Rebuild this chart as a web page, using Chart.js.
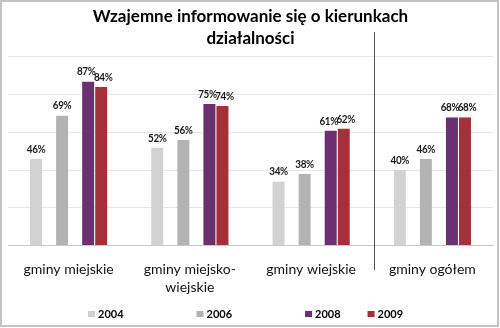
<!DOCTYPE html>
<html>
<head>
<meta charset="utf-8">
<script src="https://cdn.jsdelivr.net/npm/chart.js@4"></script>
<style>
  html, body { margin: 0; padding: 0; background: #fff; }
  #wrap { width: 500px; height: 328px; }
</style>
</head>
<body>
<div id="wrap"><canvas id="chart" width="500" height="328"></canvas></div>
<script>
const categories = [
  "gminy miejskie",
  ["gminy miejsko-", "wiejskie"],
  "gminy wiejskie",
  "gminy ogółem"
];
const years = ["2004", "", "2006", "", "2008", "2009"];
const values2004 = [46, 52, 34, 40];
const values2006 = [69, 56, 38, 46];
const values2008 = [87, 75, 61, 68];
const values2009 = [84, 74, 62, 68];
const yTicks = [0, 20, 40, 60, 80, 100];

const colors = ["#d2d2d2", "rgba(0,0,0,0)", "#b3b3b3", "rgba(0,0,0,0)", "#6b3070", "#a4313a"];
const seriesValues = [values2004, [], values2006, [], values2008, values2009];

const FONT = "Lato, 'Open Sans', sans-serif";

// white background plus the thin grey frame round the whole chart
const frame = {
  id: "frame",
  beforeDraw(chart) {
    const ctx = chart.ctx;
    ctx.save();
    ctx.fillStyle = "#fff";
    ctx.fillRect(0, 0, chart.width, chart.height);
    ctx.strokeStyle = "#c4c4c4";
    ctx.lineWidth = 2;
    ctx.strokeRect(1, 1, chart.width - 3, chart.height - 3);
    ctx.restore();
  }
};

// vertical rule that sets the total apart from the three kinds of gmina
const divider = {
  id: "divider",
  afterDraw(chart) {
    const x = chart.scales.x;
    const px = Math.round((x.getPixelForValue(2) + x.getPixelForValue(3)) / 2) + 2.5;
    const ctx = chart.ctx;
    ctx.save();
    ctx.strokeStyle = "#555";
    ctx.lineWidth = 1;
    ctx.beginPath();
    ctx.moveTo(px, 32);
    ctx.lineTo(px, 270);
    ctx.stroke();
    ctx.restore();
  }
};

// percentage above every bar; the touching 2008/2009 pair is pushed apart a little
const valueLabels = {
  id: "valueLabels",
  afterDatasetsDraw(chart) {
    const ctx = chart.ctx;
    const nudge = { "2008": -2, "2009": 2 };
    ctx.save();
    ctx.font = "bold 11px " + FONT;
    ctx.letterSpacing = "-0.4px";
    ctx.fillStyle = "#1a1a1a";
    ctx.textAlign = "center";
    ctx.textBaseline = "bottom";
    chart.data.datasets.forEach((ds, i) => {
      if (!ds.label) return;
      chart.getDatasetMeta(i).data.forEach((bar, j) => {
        ctx.save();
        ctx.translate(bar.x + (nudge[ds.label] || 0), bar.y - 4);
        ctx.scale(0.9, 1);
        ctx.fillText(ds.data[j] + "%", 0, 0);
        ctx.restore();
      });
    });
    ctx.restore();
  }
};

// one-row legend under the axis; the blank series keep their slot as spacing
const yearLegend = {
  id: "yearLegend",
  afterDraw(chart) {
    const ctx = chart.ctx;
    const box = 7, gap = 3, pad = 27, blank = 19, y = 314;
    ctx.save();
    ctx.font = "bold 11px " + FONT;
    ctx.textBaseline = "middle";
    const items = chart.data.datasets.map(ds => ({
      text: ds.label,
      color: ds.backgroundColor,
      w: ds.label ? box + gap + ctx.measureText(ds.label).width : blank
    }));
    const total = items.reduce((s, it) => s + it.w, 0) + pad * (items.length - 1);
    let x = Math.round(246 - total / 2);
    items.forEach(it => {
      if (it.text) {
        ctx.fillStyle = it.color;
        ctx.fillRect(x, y - 3, box, box - 1);
        ctx.fillStyle = "#000";
        ctx.fillText(it.text, x + box + gap, y + 0.5);
      }
      x += it.w + pad;
    });
    ctx.restore();
  }
};

const datasets = years.map((y, i) => ({
  label: y,
  data: seriesValues[i],
  backgroundColor: colors[i],
  borderColor: "#fff",
  borderWidth: y ? { left: 0.5, right: 0.5, top: 0, bottom: 0 } : 0,
  barPercentage: 1,
  categoryPercentage: 0.645
}));

new Chart(document.getElementById("chart"), {
  type: "bar",
  data: { labels: categories, datasets },
  plugins: [frame, divider, valueLabels, yearLegend],
  options: {
    responsive: false,
    animation: false,
    layout: { padding: { left: 8, right: 7, top: 0, bottom: 24 } },
    plugins: {
      title: {
        display: true,
        text: ["Wzajemne informowanie się o kierunkach", "działalności"],
        color: "#000",
        font: { family: FONT, size: 17, weight: "bold", lineHeight: 1.32 },
        padding: { top: 5, bottom: 7 }
      },
      legend: { display: false },
      tooltip: { enabled: false }
    },
    scales: {
      x: {
        grid: { display: false },
        border: { display: true, color: "#c8c8c8" },
        ticks: {
          color: "#111",
          font: { family: FONT, size: 14, lineHeight: 1.3 },
          padding: 7,
          maxRotation: 0
        }
      },
      y: {
        min: yTicks[0],
        max: yTicks[yTicks.length - 1],
        afterBuildTicks(scale) {
          scale.ticks = yTicks.map(v => ({ value: v }));
        },
        grid: { color: "#e6e6e6", drawTicks: false },
        border: { display: false },
        ticks: { display: false }
      }
    }
  }
});
</script>
</body>
</html>
